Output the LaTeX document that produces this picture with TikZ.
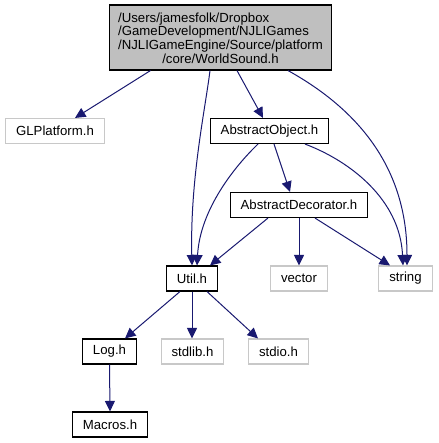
\documentclass[tikz,border=0pt]{standalone}
\usepackage{fontspec}
\setmainfont{Liberation Sans}
\usetikzlibrary{positioning,arrows.meta}
\definecolor{dgseta}{HTML}{191970}
\definecolor{dgcinza}{HTML}{BFBFBF}
\definecolor{dgborda}{HTML}{C8C8C8}
\tikzset{
  dgarquivo/.style={draw=black, line width=1.1pt, fill=white, inner xsep=10.5pt,
                  inner ysep=0pt, minimum height=25pt,
                  font=\fontsize{13.2}{14.6}\selectfont},
  dgexterno/.style={dgarquivo, draw=dgborda},
  dgraiz/.style={dgarquivo, fill=dgcinza, inner xsep=9pt, minimum height=65pt,
                  font=\fontsize{13.2}{13.6}\selectfont},
  dgseta/.style={-{Triangle[length=10.5pt,width=10pt]}, line width=1pt, draw=dgseta},
}
\begin{document}
\begin{tikzpicture}[x=1pt,y=-1pt]
        \useasboundingbox (0,0) rectangle (438,443);
        % ---------------- arquivos ----------------
        \node[dgraiz] (wsound) at (220.5,37.5) {\raisebox{-2.5pt}[\height][\depth]{\begin{tabular}{@{}l@{}}
            /Users/jamesfolk/Dropbox\\
            /GameDevelopment/NJLIGames\\
            /NJLIGameEngine/Source/platform\\
            \multicolumn{1}{@{}c@{}}{/core/WorldSound.h}\end{tabular}}};
        \node[dgexterno] (glplat) at (55,131) {GLPlatform.h};
        \node[dgarquivo] (absobj) at (269.5,131) {AbstractObject.h};
        \node[dgarquivo] (absdec) at (299,205) {AbstractDecorator.h};
        \node[dgarquivo] (util) at (192,278.5) {Util.h};
        \node[dgexterno] (vector) at (299,278.5) {vector};
        \node[dgexterno] (string) at (405.5,278.5) {string};
        \node[dgarquivo] (logh) at (109.5,351.5) {Log.h};
        \node[dgexterno] (stdlib) at (192.5,351.5) {stdlib.h};
        \node[dgexterno] (stdio) at (278.5,351.5) {stdio.h};
        \node[dgarquivo] (macros) at (110,424.5) {Macros.h};
        % ---------------- setas ----------------
        \draw[dgseta] ([xshift=-70pt]wsound.south) -- ([xshift=20pt]glplat.north);
        \draw[dgseta] ([xshift=16.5pt]wsound.south) -- ([xshift=-6.5pt]absobj.north);
        \draw[dgseta] ([xshift=-10.5pt]wsound.south) .. controls +(-5,40) and +(-2,-86) .. (util.north);
        \draw[dgseta] ([xshift=67.5pt]wsound.south) .. controls +(72,40) and +(0,-96) .. ([xshift=1.5pt]string.north);
        \draw[dgseta] ([xshift=4.5pt]absobj.south) -- ([xshift=-9pt]absdec.north);
        \draw[dgseta] ([xshift=-11.5pt]absobj.south) .. controls +(-23,22) and +(3,-56) .. ([xshift=5pt]util.north);
        \draw[dgseta] ([xshift=35.5pt]absobj.south) .. controls +(45,17) and +(-3,-66) .. ([xshift=-2.5pt]string.north);
        \draw[dgseta] ([xshift=-31pt]absdec.south) -- ([xshift=18pt]util.north);
        \draw[dgseta] (absdec.south) -- (vector.north);
        \draw[dgseta] ([xshift=16pt]absdec.south) -- ([xshift=-15.5pt]string.north);
        \draw[dgseta] ([xshift=-12pt]util.south) -- ([xshift=15.5pt]logh.north);
        \draw[dgseta] (util.south) -- ([xshift=-0.5pt]stdlib.north);
        \draw[dgseta] ([xshift=15pt]util.south) -- ([xshift=-20.5pt]stdio.north);
        \draw[dgseta] (logh.south) -- (macros.north);
    \end{tikzpicture}
\end{document}
